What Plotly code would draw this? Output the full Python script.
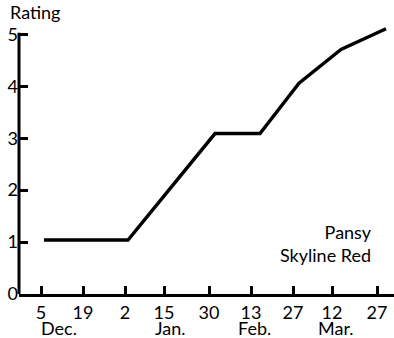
import plotly.graph_objects as go

dates = ["2001-12-06", "2002-01-03", "2002-02-01", "2002-02-16",
         "2002-03-01", "2002-03-15", "2002-03-30"]
ratings = [1.04, 1.04, 3.09, 3.09, 4.06, 4.71, 5.11]

tick_dates = ["2001-12-05", "2001-12-19", "2002-01-02", "2002-01-15", "2002-01-30",
              "2002-02-13", "2002-02-27", "2002-03-12", "2002-03-27"]
tick_labels = ["5", "19", "2", "15", "30", "13", "27", "12", "27"]

month_dates = ["2001-12-11", "2002-01-17", "2002-02-14", "2002-03-13"]
month_labels = ["Dec.", "Jan.", "Feb.", "Mar."]

y_ticks = [0, 1, 2, 3, 4, 5]

FONT = "Lato"
FS = 18

fig = go.Figure()
fig.add_trace(go.Scatter(x=dates, y=ratings, mode="lines",
                         line=dict(color="black", width=3.4), showlegend=False))

fig.update_layout(
    width=394, height=338,
    margin=dict(l=19, r=0, t=24, b=44),
    paper_bgcolor="white", plot_bgcolor="white",
    font=dict(family=FONT, size=FS, color="black"),
    xaxis=dict(type="date", range=["2001-11-27 16:00", "2002-04-01 16:00"],
               tickvals=tick_dates, ticktext=tick_labels, automargin=False,
               ticks="inside", ticklen=8, tickwidth=2.5, tickcolor="black",
               showline=True, linecolor="black", linewidth=3,
               showgrid=False, zeroline=False, tickfont=dict(size=FS)),
    yaxis=dict(range=[0, 5.2], tickvals=y_ticks, automargin=False,
               ticks="inside", ticklen=9, tickwidth=2.5, tickcolor="black",
               showline=False, showgrid=False, zeroline=False,
               tickfont=dict(size=FS)),
)

fig.add_shape(type="line", xref="paper", yref="y", x0=0, x1=0, y0=0, y1=5.03,
              line=dict(color="black", width=3))

fig.add_annotation(text="Rating", xref="paper", yref="paper", x=-0.03, y=1.0,
                   xanchor="left", yanchor="bottom", showarrow=False,
                   font=dict(size=FS), yshift=-1)

fig.add_annotation(text="Pansy<br>Skyline Red", xref="paper", yref="y",
                   x=0.946, y=0.5, xanchor="right", yanchor="bottom", align="right",
                   showarrow=False, font=dict(size=FS))

for d, m in zip(month_dates, month_labels):
    fig.add_annotation(text=m, x=d, xref="x", yref="paper", y=0, yanchor="top",
                       yshift=-21, showarrow=False, font=dict(size=FS))

fig.write_html("out.html", config={"displayModeBar": False},
               post_script="document.body.style.margin='0';")
